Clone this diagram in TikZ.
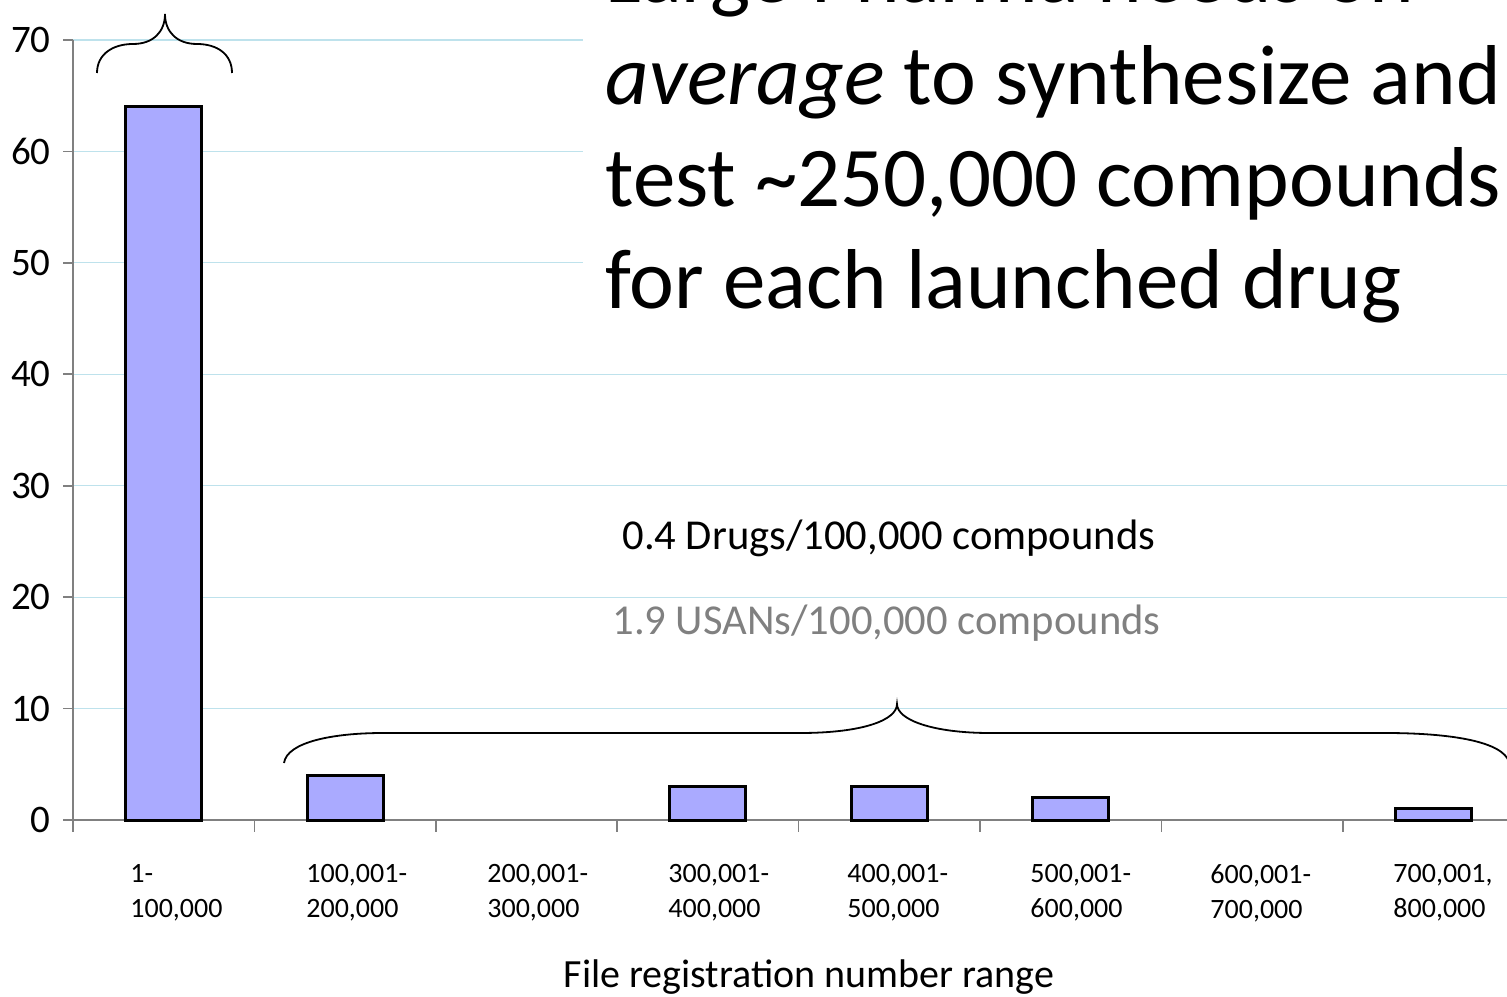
\documentclass[tikz,border=0pt]{standalone}
\usepackage{fontspec}
\setmainfont{Carlito}

\definecolor{barblue}{RGB}{170,170,255}
\definecolor{gridblue}{RGB}{190,226,236}
\definecolor{axisgray}{RGB}{128,128,128}
\definecolor{notegray}{RGB}{128,128,128}

\tikzset{
  gridline/.style={gridblue, line width=0.6pt},
  axisline/.style={axisgray, line width=0.8pt},
  bar/.style={fill=barblue, draw=black, line width=1.5pt},
  bracket/.style={black, line width=0.9pt},
  ylab/.style={anchor=east, inner sep=0pt, font=\fontsize{19.5}{23}\selectfont},
  xlab/.style={anchor=north west, align=left, inner sep=0pt, font=\fontsize{14}{17.5}\selectfont},
  note/.style={anchor=base west, inner sep=0pt, font=\fontsize{21.3}{25}\selectfont}
}

\begin{document}
\begin{tikzpicture}[x=0.5pt,y=0.5pt]
	\useasboundingbox (-73,-176) rectangle (1434,820);
	\clip (-73,-176) rectangle (1434,820);
	% value grid, y ticks and y labels
	\foreach \v in {0,10,...,70} {
		\draw[gridline] (0,\v*11.143) -- (1434,\v*11.143);
		\draw[axisline] (-10,\v*11.143) -- (0,\v*11.143);
		\node[ylab] (y\v) at (-22,\v*11.143) {\v};
	}
	% axes
	\draw[axisline] (0,0) -- (0,780);
	\draw[axisgray, line width=1pt] (0,0) -- (1434,0);
	\foreach \k in {0,...,7}
		\draw[axisline] (\k*181.4,0) -- ++(0,-12);
	% bars
	\foreach \k/\val in {0/64,1/4,3/3,4/3,5/2,7/1}
		\draw[bar] ({\k*181.4+52.7},0) rectangle ++(76,\val*11.143);
	% category labels
	\node[xlab] (c1) at (57,-44) {1-\\100,000};
	\node[xlab] (c2) at (233,-44) {100,001-\\200,000};
	\node[xlab] (c3) at (414,-44) {200,001-\\300,000};
	\node[xlab] (c4) at (595,-44) {300,001-\\400,000};
	\node[xlab] (c5) at (774,-44) {400,001-\\500,000};
	\node[xlab] (c6) at (957,-44) {500,001-\\600,000};
	\node[xlab] (c7) at (1137,-44) {600,001-\\700,000};
	\node[xlab] (c8) at (1320,-44) {700,001,\\800,000};
	\node[anchor=base, inner sep=0pt, font=\fontsize{20}{24}\selectfont] (xtitle) at (736,-167) {File registration number range};
	% headline box
	\node[anchor=base west, fill=white, inner sep=11pt, font=\fontsize{42.5}{51}\selectfont] (claim) at (510,817)
		{\parbox[t]{470pt}{Large Pharma needs on\\
		\textit{average} to synthesize and\\
		test \textasciitilde250,000 compounds\\
		for each launched drug}};
	% rates
	\node[note] (drugs) at (549,271) {0.4 Drugs/100,000 compounds};
	\node[note, notegray] (usans) at (539,186) {1.9 USANs/100,000 compounds};
	% braces
	\draw[bracket] (24,747) .. controls (24,766) and (40,776) .. (60,776)
		.. controls (80,776) and (92,788) .. (92,806)
		.. controls (92,788) and (104,776) .. (124,776)
		.. controls (144,776) and (159,766) .. (159,747);
	\draw[bracket] (211,57) .. controls (214,78) and (260,87) .. (310,87)
		-- (727,87) .. controls (790,87) and (824,100) .. (824,116)
		.. controls (824,100) and (860,87) .. (917,87)
		-- (1312,87) .. controls (1380,87) and (1430,78) .. (1436,58);
\end{tikzpicture}
\end{document}
